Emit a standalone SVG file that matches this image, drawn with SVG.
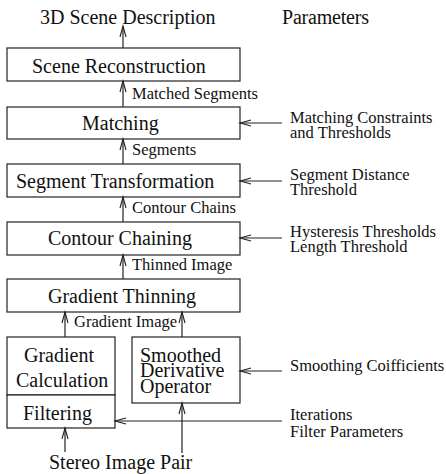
<svg xmlns="http://www.w3.org/2000/svg" width="446" height="474" viewBox="0 0 446 474">
<style>
.box{fill:#fff;stroke:#222;stroke-width:1.2}
.c{fill:none;stroke:#222;stroke-width:1.2}
</style>
<defs>
<marker id="ah" markerUnits="userSpaceOnUse" markerWidth="14" markerHeight="10" viewBox="-12 -5 14 10" refX="0" refY="0" orient="auto">
<path d="M-11,-3 L0,0 L-11,3" fill="none" stroke="#222" stroke-width="1.1"/>
</marker>
</defs>
<text x="40" y="24" style="font-family:'Liberation Serif',serif;font-size:20px;fill:#111">3D Scene Description</text>
<text x="282" y="24" textLength="87" style="font-family:'Liberation Serif',serif;font-size:20px;fill:#111">Parameters</text>
<g id="scene-reconstruction">
<rect class="box" x="7" y="48" width="233" height="33"/>
<text x="32" y="73" style="font-family:'Liberation Serif',serif;font-size:20px;fill:#111">Scene Reconstruction</text>
</g>
<g id="matching">
<rect class="box" x="7" y="107" width="233" height="32"/>
<text x="82" y="130" style="font-family:'Liberation Serif',serif;font-size:20px;fill:#111">Matching</text>
</g>
<g id="segment-transformation">
<rect class="box" x="7" y="164" width="233" height="33"/>
<text x="16" y="188" style="font-family:'Liberation Serif',serif;font-size:20px;fill:#111">Segment Transformation</text>
</g>
<g id="contour-chaining">
<rect class="box" x="7" y="222" width="233" height="33"/>
<text x="48" y="245" style="font-family:'Liberation Serif',serif;font-size:20px;fill:#111">Contour Chaining</text>
</g>
<g id="gradient-thinning">
<rect class="box" x="7" y="279" width="233" height="33"/>
<text x="48" y="303" style="font-family:'Liberation Serif',serif;font-size:20px;fill:#111">Gradient Thinning</text>
</g>
<g id="gradient-calculation">
<rect class="box" x="7" y="337" width="108" height="58"/>
<text x="24" y="362" style="font-family:'Liberation Serif',serif;font-size:20px;fill:#111">Gradient</text>
<text x="16" y="387" style="font-family:'Liberation Serif',serif;font-size:20px;fill:#111">Calculation</text>
</g>
<g id="filtering">
<rect class="box" x="7" y="395" width="108" height="33"/>
<text x="23" y="420" style="font-family:'Liberation Serif',serif;font-size:20px;fill:#111">Filtering</text>
</g>
<g id="smoothed-derivative-operator">
<rect class="box" x="132" y="337" width="108" height="66"/>
<text x="140" y="362" style="font-family:'Liberation Serif',serif;font-size:20px;fill:#111">Smoothed</text>
<text x="140" y="377" style="font-family:'Liberation Serif',serif;font-size:20px;fill:#111">Derivative</text>
<text x="140" y="393" style="font-family:'Liberation Serif',serif;font-size:20px;fill:#111">Operator</text>
</g>
<g id="labels">
<text x="49" y="469" style="font-family:'Liberation Serif',serif;font-size:20px;fill:#111">Stereo Image Pair</text>
<text x="290" y="123" style="font-family:'Liberation Serif',serif;font-size:16.5px;fill:#111">Matching Constraints</text>
<text x="290" y="138" style="font-family:'Liberation Serif',serif;font-size:16.5px;fill:#111">and Thresholds</text>
<text x="290" y="180" style="font-family:'Liberation Serif',serif;font-size:16.5px;fill:#111">Segment Distance</text>
<text x="290" y="195" style="font-family:'Liberation Serif',serif;font-size:16.5px;fill:#111">Threshold</text>
<text x="290" y="237" style="font-family:'Liberation Serif',serif;font-size:16.5px;fill:#111">Hysteresis Thresholds</text>
<text x="290" y="252" style="font-family:'Liberation Serif',serif;font-size:16.5px;fill:#111">Length Threshold</text>
<text x="290" y="371" style="font-family:'Liberation Serif',serif;font-size:16.5px;fill:#111">Smoothing Coifficients</text>
<text x="290" y="420" style="font-family:'Liberation Serif',serif;font-size:16.5px;fill:#111">Iterations</text>
<text x="290" y="437" style="font-family:'Liberation Serif',serif;font-size:16.5px;fill:#111">Filter Parameters</text>
</g>
<g id="connectors">
<line class="c" x1="123" y1="48" x2="123" y2="26" marker-end="url(#ah)"/>
<line class="c" x1="123" y1="107" x2="123" y2="81" marker-end="url(#ah)"/>
<line class="c" x1="123" y1="164" x2="123" y2="139" marker-end="url(#ah)"/>
<line class="c" x1="123" y1="222" x2="123" y2="197" marker-end="url(#ah)"/>
<line class="c" x1="123" y1="279" x2="123" y2="255" marker-end="url(#ah)"/>
<line class="c" x1="65" y1="337" x2="65" y2="312" marker-end="url(#ah)"/>
<line class="c" x1="182" y1="337" x2="182" y2="312" marker-end="url(#ah)"/>
<line class="c" x1="65" y1="452" x2="65" y2="428" marker-end="url(#ah)"/>
<line class="c" x1="182" y1="453" x2="182" y2="403" marker-end="url(#ah)"/>
<line class="c" x1="282" y1="123" x2="240" y2="123" marker-end="url(#ah)"/>
<line class="c" x1="282" y1="181" x2="240" y2="181" marker-end="url(#ah)"/>
<line class="c" x1="282" y1="238" x2="240" y2="238" marker-end="url(#ah)"/>
<line class="c" x1="282" y1="371" x2="240" y2="371" marker-end="url(#ah)"/>
<line class="c" x1="282" y1="421" x2="115" y2="421" marker-end="url(#ah)"/>
<text x="132" y="99" style="font-family:'Liberation Serif',serif;font-size:16.5px;fill:#111">Matched Segments</text>
<text x="132" y="155" style="font-family:'Liberation Serif',serif;font-size:16.5px;fill:#111">Segments</text>
<text x="132" y="213" style="font-family:'Liberation Serif',serif;font-size:16.5px;fill:#111">Contour Chains</text>
<text x="132" y="270" style="font-family:'Liberation Serif',serif;font-size:16.5px;fill:#111">Thinned Image</text>
<text x="74" y="327" style="font-family:'Liberation Serif',serif;font-size:16.5px;fill:#111">Gradient Image</text>
</g>
</svg>
